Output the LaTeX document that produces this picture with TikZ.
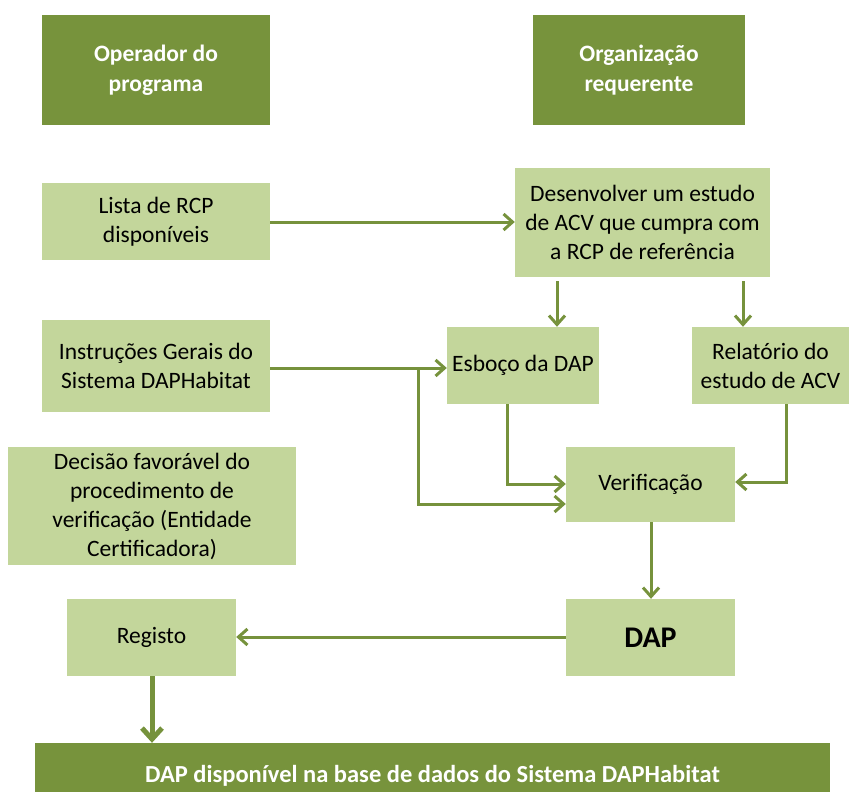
\documentclass[tikz,border=0pt]{standalone}
\usepackage{fontspec}
\setmainfont{Carlito}
\usetikzlibrary{arrows.meta}
\definecolor{lg}{HTML}{C3D69B}
\definecolor{dg}{HTML}{77933C}
\definecolor{ag}{HTML}{76923C}
\begin{document}
\begin{tikzpicture}[x=1pt,y=-1pt,
  box/.style={fill=lg,draw=none,inner sep=0pt,align=center,font=\fontsize{23.5}{29}\selectfont},
  hdr/.style={fill=dg,draw=none,inner sep=0pt,align=center,text=white,font=\bfseries\fontsize{23.5}{30}\selectfont},
  arr/.style={draw=ag,line width=3pt,-{Straight Barb[length=9pt,width=16pt,line width=3pt]}},
  thick arr/.style={draw=ag,line width=5pt,-{Straight Barb[length=11pt,width=20pt,line width=5pt]}}]
\useasboundingbox (0,0) rectangle (849,792);
\def\bx#1#2#3#4#5#6#7{\node[#1,minimum width={#4-#2},minimum height={#5-#3}] (#6) at ({(#2+#4)/2},{(#3+#5)/2}) {#7};}
\bx{hdr}{42}{15}{270}{125}{h1}{Operador do\\programa}
\bx{hdr}{533}{15}{745}{125}{h2}{Organização\\requerente}
\bx{box}{42}{183}{270}{260}{lista}{Lista de RCP\\disponíveis}
\bx{box}{515}{168}{770}{277}{dev}{Desenvolver um estudo\\de ACV que cumpra com\\a RCP de referência}
\bx{box}{42}{320}{270}{412}{instr}{Instruções Gerais do\\Sistema DAPHabitat}
\bx{box}{447}{327}{599}{404}{esb}{Esboço da DAP}
\bx{box}{692}{327}{849}{404}{rel}{Relatório do\\estudo de ACV}
\bx{box}{8}{447}{296}{565}{dec}{Decisão favorável do\\procedimento de\\verificação (Entidade\\Certificadora)}
\bx{box}{566}{447}{735}{522}{ver}{Verificação}
\bx{box}{67}{599}{236}{676}{reg}{Registo}
\node[fill=lg,inner sep=0pt,minimum width=169pt,minimum height=77pt,font=\bfseries\fontsize{30}{32}\selectfont] (dap) at (650.5,637.5) {DAP};
\node[fill=dg,inner sep=0pt,minimum width=795pt,minimum height=66pt,text=white,font=\bfseries\fontsize{24.5}{28}\selectfont] (band) at (432.5,776) {DAP disponível na base de dados do Sistema DAPHabitat};
% connectors
\draw[arr] (lista.east |- 0,222) -- (dev.west |- 0,222);
\draw[arr] (instr.east |- 0,368) -- (esb.west |- 0,368);
\coordinate (br) at (418,368);
\draw[arr] (br) -- (418,504) -- (ver.west |- 0,504);
\draw[arr] (507,404) -- (507,484) -- (ver.west |- 0,484);
\draw[arr] (786,404) -- (786,482) -- (ver.east |- 0,482);
\draw[arr] (557,281) -- (esb.north -| 557,0);
\draw[arr] (743,281) -- (rel.north -| 743,0);
\draw[arr] (651,522) -- (dap.north -| 651,0);
\draw[arr] (dap.west |- 0,637) -- (reg.east |- 0,637);
\draw[thick arr] (152,676) -- (band.north -| 152,0);
\end{tikzpicture}
\end{document}
